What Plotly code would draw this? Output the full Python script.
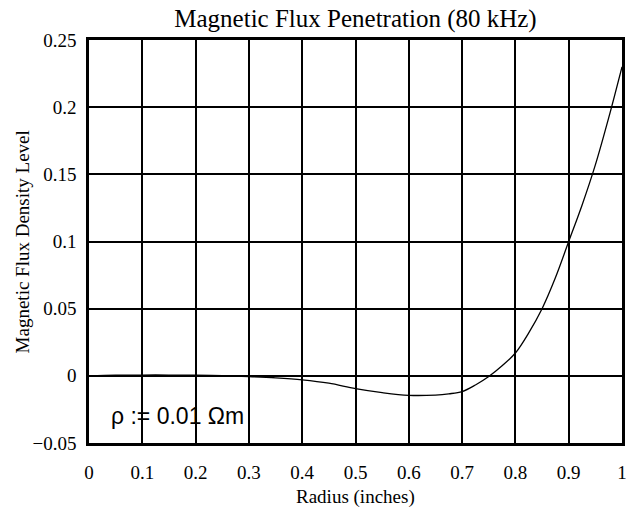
import plotly.graph_objects as go

radius = [0.0, 0.05, 0.1, 0.15, 0.2, 0.25, 0.3, 0.35, 0.4, 0.45, 0.5, 0.55, 0.6,
          0.65, 0.675, 0.7, 0.725, 0.75, 0.775, 0.8, 0.825, 0.85, 0.875, 0.9,
          0.925, 0.95, 0.975, 1.0]
flux = [0.0, 0.0005, 0.0006, 0.0006, 0.0005, 0.0002, -0.0005, -0.0015, -0.003,
        -0.0055, -0.0095, -0.0125, -0.0145, -0.0143, -0.0134, -0.0117, -0.0068,
        -0.0005, 0.0075, 0.017, 0.032, 0.05, 0.073, 0.1, 0.127, 0.157, 0.192,
        0.23]

x_ticks = [0, 0.1, 0.2, 0.3, 0.4, 0.5, 0.6, 0.7, 0.8, 0.9, 1]
x_labels = ["0", "0.1", "0.2", "0.3", "0.4", "0.5", "0.6", "0.7", "0.8", "0.9", "1"]
y_ticks = [-0.05, 0, 0.05, 0.1, 0.15, 0.2, 0.25]
y_labels = ["\u22120.05", "0", "0.05", "0.1", "0.15", "0.2", "0.25"]

serif = "Liberation Serif, Times New Roman, serif"

fig = go.Figure()
fig.add_trace(go.Scatter(x=radius, y=flux, mode="lines",
                         line=dict(color="black", width=1.3, shape="spline"),
                         showlegend=False, hoverinfo="skip"))

fig.add_annotation(x=0.037, y=-0.030, xref="x", yref="y", xanchor="left",
                   yanchor="middle", showarrow=False,
                   text="\u03c1 := 0.01 \u03a9m",
                   font=dict(family="Liberation Sans, Arial, sans-serif",
                             size=23, color="black"))

# axis titles
fig.add_annotation(x=0.5, y=-0.135, xref="paper", yref="paper",
                   xanchor="center", yanchor="middle", showarrow=False,
                   text="Radius (inches)",
                   font=dict(family=serif, size=19, color="black"))
fig.add_annotation(x=-0.124, y=0.5, xref="paper", yref="paper",
                   xanchor="center", yanchor="middle", showarrow=False,
                   textangle=-90, text="Magnetic Flux Density Level",
                   font=dict(family=serif, size=19, color="black"))

axis_common = dict(showgrid=True, gridcolor="black", gridwidth=2,
                   showline=True, linecolor="black", linewidth=2.5, mirror=True,
                   zeroline=False, ticks="", automargin=False,
                   ticklabeloverflow="allow",
                   tickfont=dict(family=serif, size=19, color="black"))

fig.update_layout(
    width=626, height=512,
    margin=dict(l=89, r=4, t=40, b=69),
    paper_bgcolor="white", plot_bgcolor="white",
    title=dict(text="Magnetic Flux Penetration (80 kHz)",
               font=dict(family=serif, size=25, color="black"),
               x=(89 + 622) / 2 / 626, xanchor="center", y=1 - 18 / 512,
               yanchor="middle"),
    xaxis=dict(range=[0, 1], tickvals=x_ticks, ticktext=x_labels,
               ticklabelstandoff=10, **axis_common),
    yaxis=dict(range=[-0.05, 0.25], tickvals=y_ticks, ticktext=y_labels,
               ticklabelstandoff=6, **axis_common),
)

fig.write_html("out.html",
               config={"displayModeBar": False},
               post_script="document.body.style.margin='0';"
                           "document.body.style.overflow='hidden';")
